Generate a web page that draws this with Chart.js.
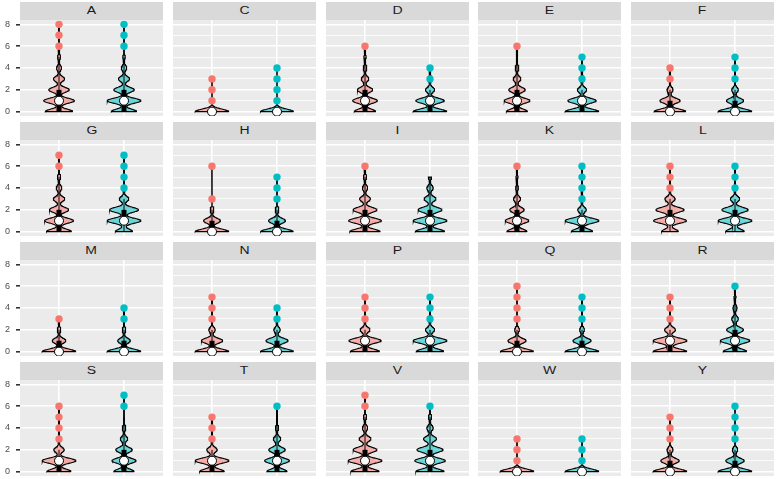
<!DOCTYPE html>
<html>
<head>
<meta charset="utf-8">
<script src="https://cdn.jsdelivr.net/npm/chart.js@4.4.0/dist/chart.umd.min.js"></script>
<style>
  html, body { margin: 0; padding: 0; background: #fff; }
  #grid { position: relative; width: 778px; height: 479px; overflow: hidden; }
  .strip {
    position: absolute; background: #D9D9D9; color: #1A1A1A;
    font: 10px "Liberation Sans", Arial, sans-serif;
    text-align: center; line-height: 18px;
  }
  .strip span { display: inline-block; transform: scaleX(1.4); }
</style>
</head>
<body>
<div id="grid"></div>
<script>
// facet labels, reading order, 5 per row
const panelNames = ['A', 'C', 'D', 'E', 'F', 'G', 'H', 'I', 'K', 'L', 'M', 'N', 'P', 'Q', 'R', 'S', 'T', 'V', 'W', 'Y'];

// share of cases at value 0, 1, 2, ... (first group, red)
const group1Shares = [
    [0.27, 0.30, 0.20, 0.11, 0.05, 0.03, 0.02, 0.01, 0.01], // A
    [0.95, 0.03, 0.015, 0.005],                            // C
    [0.28, 0.32, 0.20, 0.10, 0.05, 0.03, 0.02],            // D
    [0.27, 0.33, 0.21, 0.10, 0.05, 0.025, 0.015],          // E
    [0.52, 0.33, 0.10, 0.03, 0.02],                        // F
    [0.26, 0.30, 0.20, 0.12, 0.06, 0.035, 0.015, 0.01],    // G
    [0.60, 0.30, 0.07, 0.02, 0, 0, 0.01],                  // H
    [0.28, 0.30, 0.22, 0.10, 0.05, 0.03, 0.02],            // I
    [0.28, 0.33, 0.20, 0.10, 0.04, 0.03, 0.02],            // K
    [0.18, 0.35, 0.30, 0.11, 0.03, 0.02, 0.01],            // L
    [0.64, 0.26, 0.07, 0.03],                              // M
    [0.52, 0.33, 0.10, 0.03, 0.015, 0.005],                // N
    [0.38, 0.42, 0.13, 0.04, 0.02, 0.01],                  // P
    [0.55, 0.30, 0.08, 0.03, 0.02, 0.01, 0.01],            // Q
    [0.40, 0.40, 0.13, 0.04, 0.02, 0.01],                  // R
    [0.32, 0.45, 0.14, 0.04, 0.025, 0.015, 0.01],          // S
    [0.33, 0.45, 0.14, 0.04, 0.025, 0.015],                // T
    [0.26, 0.31, 0.22, 0.11, 0.05, 0.03, 0.015, 0.005],    // V
    [0.93, 0.04, 0.02, 0.01],                              // W
    [0.55, 0.30, 0.10, 0.03, 0.015, 0.005]                 // Y
];

// same for the second group (teal)
const group2Shares = [
    [0.25, 0.33, 0.20, 0.11, 0.055, 0.025, 0.015, 0.01, 0.005], // A
    [0.93, 0.035, 0.02, 0.01, 0.005],                      // C
    [0.44, 0.37, 0.12, 0.05, 0.025],                       // D
    [0.43, 0.36, 0.12, 0.05, 0.03, 0.01],                  // E
    [0.55, 0.28, 0.11, 0.03, 0.02, 0.01],                  // F
    [0.18, 0.35, 0.30, 0.10, 0.035, 0.02, 0.01, 0.005],    // G
    [0.58, 0.30, 0.07, 0.03, 0.01, 0.01],                  // H
    [0.27, 0.31, 0.22, 0.11, 0.06, 0.03],                  // I
    [0.30, 0.47, 0.12, 0.05, 0.03, 0.02, 0.01],            // K
    [0.20, 0.36, 0.28, 0.10, 0.03, 0.02, 0.01],            // L
    [0.64, 0.24, 0.07, 0.03, 0.02],                        // M
    [0.51, 0.34, 0.10, 0.035, 0.015],                      // N
    [0.36, 0.44, 0.12, 0.05, 0.02, 0.01],                  // P
    [0.56, 0.30, 0.08, 0.03, 0.02, 0.01],                  // Q
    [0.28, 0.35, 0.20, 0.08, 0.05, 0.025, 0.015],          // R
    [0.27, 0.32, 0.22, 0.10, 0.05, 0.025, 0.01, 0.005],    // S
    [0.27, 0.33, 0.22, 0.10, 0.045, 0.025, 0.01],          // T
    [0.26, 0.28, 0.24, 0.12, 0.06, 0.03, 0.01],            // V
    [0.93, 0.04, 0.02, 0.01],                              // W
    [0.55, 0.30, 0.09, 0.03, 0.015, 0.01, 0.005]           // Y
];

const groupPositions = [1, 2];
const yTicks = [0, 1, 2, 3, 4, 5, 6, 7, 8];

const COLORS = ['#F8766D', '#00BFC4'];
const FILLS = ['rgba(248,118,109,0.55)', 'rgba(0,191,196,0.55)'];
const BANDWIDTH = 0.23;
const HALF_WIDTH = 0.26;

const COL_LEFT = [20, 173, 326, 478, 631];
const PANEL_W = 143, ROW_H = 120, STRIP_H = 18, PLOT_H = 96, AXIS_W = 20;

function normalize(p) {
    const total = p.reduce((a, b) => a + b, 0);
    return p.map(v => v / total);
}

// boxplot numbers the way ggplot gets them (1.5 IQR whiskers)
function boxStats(p) {
    const cum = [];
    let s = 0;
    p.forEach(v => { s += v; cum.push(s); });
    const q = prob => cum.findIndex(c => c >= prob - 1e-9);
    const q1 = q(0.25), med = q(0.5), q3 = q(0.75);
    const iqr = q3 - q1;
    const present = p.map((v, i) => v > 0 ? i : -1).filter(i => i >= 0);
    const lo = Math.min(...present.filter(v => v >= q1 - 1.5 * iqr));
    const hi = Math.max(...present.filter(v => v <= q3 + 1.5 * iqr));
    return {
        q1, med, q3, lo, hi,
        outliers: present.filter(v => v < lo || v > hi),
        min: present[0], max: present[present.length - 1]
    };
}

function density(p, y) {
    let f = 0;
    p.forEach((v, i) => {
        const z = (y - i) / BANDWIDTH;
        f += v * Math.exp(-0.5 * z * z);
    });
    return f / BANDWIDTH;
}

const panelBg = {
    id: 'panelBg',
    beforeDraw(chart) {
        const { ctx, chartArea: a } = chart;
        ctx.save();
        ctx.fillStyle = '#EBEBEB';
        ctx.fillRect(a.left, a.top, a.width, a.height);
        ctx.restore();
    }
};

const grid = document.getElementById('grid');

panelNames.forEach((name, i) => {
    const row = Math.floor(i / 5), col = i % 5;
    const withAxis = col === 0;
    const shares = [group1Shares[i], group2Shares[i]].map(normalize);
    const stats = shares.map(boxStats);

    // violin outlines, trimmed to the data range
    const curves = shares.map((p, g) => {
        const { min, max } = stats[g];
        const n = Math.round((max - min) / 0.02);
        const pts = [];
        for (let k = 0; k <= n; k++) {
            const y = min + (max - min) * k / n;
            pts.push({ y, d: density(p, y) });
        }
        return pts;
    });
    const dMax = Math.max(...curves.flat().map(c => c.d));

    const layers = [];
    curves.forEach((pts, g) => {
        const c = groupPositions[g];
        const right = pts.map(pt => ({ x: c + HALF_WIDTH * pt.d / dMax, y: pt.y }));
        const left = pts.slice().reverse().map(pt => ({ x: c - HALF_WIDTH * pt.d / dMax, y: pt.y }));
        layers.push({
            data: [...right, ...left, right[0]],
            borderColor: '#000', borderWidth: 1.1,
            backgroundColor: FILLS[g], fill: 'shape',
            pointRadius: 0, tension: 0
        });
    });
    stats.forEach((st, g) => {
        const c = groupPositions[g];
        layers.push({
            data: [{ x: c, y: st.lo }, { x: c, y: st.hi }],
            borderColor: '#000', borderWidth: 1, pointRadius: 0, fill: false
        });
    });
    stats.forEach((st, g) => {
        const c = groupPositions[g];
        layers.push({
            data: [{ x: c, y: st.q1 }, { x: c, y: st.q3 }],
            borderColor: '#000', borderWidth: 5, borderCapStyle: 'butt', pointRadius: 0, fill: false
        });
    });
    stats.forEach((st, g) => {
        const c = groupPositions[g];
        layers.push({
            data: st.outliers.map(v => ({ x: c, y: v })),
            showLine: false, pointRadius: 3.7, pointBorderWidth: 0,
            pointBackgroundColor: COLORS[g], clip: 6
        });
    });
    stats.forEach((st, g) => {
        const c = groupPositions[g];
        layers.push({
            data: [{ x: c, y: st.med }],
            showLine: false, pointRadius: 4.5, pointBorderWidth: 1,
            pointBorderColor: '#000', pointBackgroundColor: '#fff', clip: 6
        });
    });
    layers.forEach((ds, k) => { ds.order = layers.length - k; });

    const strip = document.createElement('div');
    strip.className = 'strip';
    strip.style.left = COL_LEFT[col] + 'px';
    strip.style.top = (row * ROW_H + 2) + 'px';
    strip.style.width = PANEL_W + 'px';
    strip.style.height = STRIP_H + 'px';
    const label = document.createElement('span');
    label.textContent = name;
    strip.appendChild(label);

    const canvas = document.createElement('canvas');
    canvas.width = PANEL_W + (withAxis ? AXIS_W : 0);
    canvas.height = STRIP_H + PLOT_H;
    canvas.style.position = 'absolute';
    canvas.style.left = (COL_LEFT[col] - (withAxis ? AXIS_W : 0)) + 'px';
    canvas.style.top = (row * ROW_H + 2) + 'px';
    grid.appendChild(canvas);
    grid.appendChild(strip);

    new Chart(canvas, {
        type: 'line',
        data: { datasets: layers },
        options: {
            responsive: false,
            animation: false,
            events: [],
            layout: { autoPadding: false, padding: { top: STRIP_H, left: 0, right: 0, bottom: 0 } },
            plugins: { legend: { display: false }, tooltip: { enabled: false } },
            scales: {
                x: {
                    type: 'linear', min: 0.4, max: 2.6,
                    afterBuildTicks: s => { s.ticks = groupPositions.map(v => ({ value: v })); },
                    afterFit: s => { s.height = 0; s.paddingLeft = 0; s.paddingRight = 0; },
                    ticks: { display: false },
                    grid: { color: '#FFFFFF', lineWidth: 1.6, drawTicks: false },
                    border: { display: false }
                },
                y: {
                    type: 'linear', min: -0.4, max: 8.4,
                    afterBuildTicks: s => { s.ticks = yTicks.map(v => ({ value: v })); },
                    afterFit: s => { s.width = withAxis ? AXIS_W : 0; s.paddingTop = 0; s.paddingBottom = 0; },
                    ticks: {
                        display: withAxis,
                        padding: 6,
                        color: '#4D4D4D',
                        font: { family: '"Liberation Sans", Arial, sans-serif', size: 9 },
                        callback: v => (v % 2 === 0 ? String(v) : '')
                    },
                    grid: {
                        color: '#FFFFFF',
                        lineWidth: ctx => (ctx.tick && ctx.tick.value % 2 ? 0.8 : 1.6),
                        drawTicks: withAxis,
                        tickLength: 4,
                        tickColor: ctx => (ctx.tick && ctx.tick.value % 2 ? 'rgba(0,0,0,0)' : '#333333')
                    },
                    border: { display: false }
                }
            }
        },
        plugins: [panelBg]
    });
});
</script>
</body>
</html>
